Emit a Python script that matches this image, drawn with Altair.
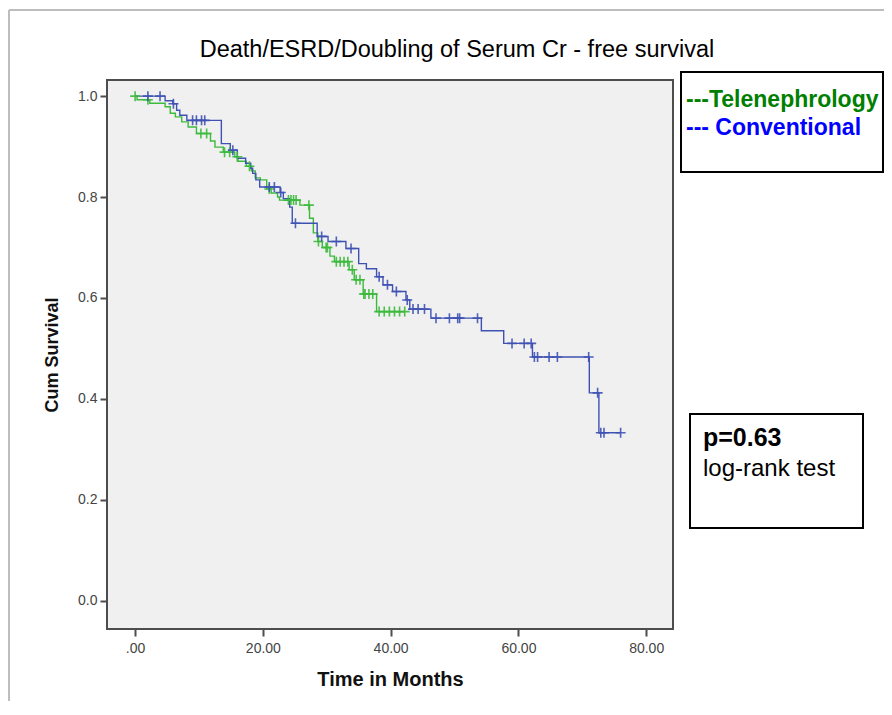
import altair as alt
import pandas as pd

# ---- Data ----
# Telenephrology (green): step times (months) and survival level after each step
tele_t = [0.0, 0.3, 2.3, 4.7, 5.5, 6.3, 7.3, 8.3, 9.6, 11.8, 12.5, 13.8, 15.6, 16.1,
          17.4, 18.2, 18.8, 19.6, 20.6, 21.3, 22.3, 22.6, 25.8, 27.3, 27.9, 28.6,
          29.3, 30.5, 31.2, 33.5, 34.3, 35.7, 37.8]
tele_s = [1.000, 0.993, 0.986, 0.979, 0.966, 0.959, 0.949, 0.939, 0.926, 0.911, 0.899,
          0.889, 0.880, 0.871, 0.861, 0.852, 0.838, 0.834, 0.816, 0.808, 0.800, 0.794,
          0.784, 0.758, 0.729, 0.712, 0.700, 0.683, 0.672, 0.656, 0.636, 0.608, 0.573]
tele_end = 42.2
tele_cens = [0.0, 2.0, 10.3, 11.2, 14.0, 14.8, 16.0, 17.9, 21.0, 24.0, 24.4, 24.8, 25.2,
             27.2, 28.7, 29.9, 30.1, 31.5, 32.1, 32.7, 33.3, 34.0, 34.6, 35.2, 35.8,
             36.0, 36.6, 37.2, 38.2, 39.0, 39.8, 40.6, 41.4, 42.2]

# Conventional (blue)
conv_t = [0.0, 4.7, 5.9, 6.5, 7.0, 8.1, 13.5, 14.9, 16.0, 17.3, 18.1, 18.4, 18.9, 19.5,
          22.7, 23.2, 24.2, 24.6, 28.5, 30.2, 33.0, 35.0, 36.2, 37.8, 38.8, 40.3, 42.4,
          43.0, 46.3, 54.2, 57.7, 62.2, 71.1, 72.6]
conv_s = [1.000, 0.991, 0.985, 0.972, 0.962, 0.952, 0.906, 0.893, 0.877, 0.867, 0.857,
          0.847, 0.834, 0.820, 0.809, 0.797, 0.780, 0.748, 0.722, 0.712, 0.698, 0.668,
          0.658, 0.642, 0.626, 0.613, 0.596, 0.578, 0.560, 0.535, 0.510, 0.483, 0.412, 0.333]
conv_end = 76.0
conv_cens = [2.0, 3.9, 6.0, 9.0, 9.6, 10.4, 10.9, 15.3, 21.0, 21.8, 22.8, 25.1, 29.2, 31.5,
             33.8, 38.2, 39.5, 40.9, 42.6, 43.5, 44.3, 45.3, 47.1, 49.2, 50.5, 50.8, 53.6,
             59.0, 60.9, 62.0, 62.5, 63.0, 64.8, 66.1, 71.0, 72.4, 72.9, 73.4, 76.0]

groups = ["Telenephrology", "Conventional"]
colors = ["#3cba3c", "#3f52b4"]

x_ticks = [0, 20, 40, 60, 80]
y_ticks = [0.0, 0.2, 0.4, 0.6, 0.8, 1.0]


def level_at(ts, ss, t):
    lv = ss[0]
    for ti, si in zip(ts, ss):
        if ti <= t:
            lv = si
    return lv


line_rows, cens_rows = [], []
for g, ts, ss, end, cens in [(groups[0], tele_t, tele_s, tele_end, tele_cens),
                             (groups[1], conv_t, conv_s, conv_end, conv_cens)]:
    for i, (t, s) in enumerate(zip(ts, ss)):
        line_rows.append({"group": g, "t": t, "s": s, "o": i})
    line_rows.append({"group": g, "t": end, "s": ss[-1], "o": len(ts)})
    for c in cens:
        cens_rows.append({"group": g, "t": c, "s": level_at(ts, ss, c)})

lines_df = pd.DataFrame(line_rows)
cens_df = pd.DataFrame(cens_rows)

xs = alt.Scale(domain=[-4.4, 84.2], nice=False, zero=False)
ys = alt.Scale(domain=[-0.056, 1.032], nice=False, zero=False)
cs = alt.Scale(domain=groups, range=colors)

x_enc = alt.X("t:Q", scale=xs, axis=alt.Axis(
    values=x_ticks, title="Time in Months",
    labelExpr="datum.value == 0 ? '.00' : format(datum.value, '.2f')"))
y_enc = alt.Y("s:Q", scale=ys, axis=alt.Axis(
    values=y_ticks, format=".1f", title="Cum Survival"))

lines = alt.Chart(lines_df).mark_line(interpolate="step-after", strokeWidth=1.4).encode(
    x=x_enc, y=y_enc,
    color=alt.Color("group:N", scale=cs, legend=None),
    order="o:Q", detail="group:N")

cens = alt.Chart(cens_df).mark_point(
    shape="M-1,0L1,0M0,-1L0,1", size=100, filled=False, strokeWidth=1.6, opacity=0.9
).encode(x="t:Q", y="s:Q", color=alt.Color("group:N", scale=cs, legend=None))

dummy = pd.DataFrame({"a": [0]})


def rule(x1, y1, x2, y2, color, w):
    return alt.Chart(dummy).mark_rule(color=color, strokeWidth=w).encode(
        x=alt.value(x1), x2=alt.value(x2), y=alt.value(y1), y2=alt.value(y2))


def box(x1, y1, x2, y2):
    return alt.Chart(dummy).mark_rect(fill="white", stroke="black", strokeWidth=2).encode(
        x=alt.value(x1), x2=alt.value(x2), y=alt.value(y1), y2=alt.value(y2))


def label(txt, x, y, size, color="black", weight="normal", align="left", font="Liberation Sans"):
    return alt.Chart(dummy).mark_text(
        text=txt, fontSize=size, color=color, fontWeight=weight, align=align,
        baseline="middle", font=font).encode(x=alt.value(x), y=alt.value(y))


outer_top = rule(-98, -70, 780, -70, "#bdbdbd", 2)
outer_left = rule(-98, -70, -98, 650, "#bdbdbd", 2)

title = label("Death/ESRD/Doubling of Serum Cr - free survival", 350, -30, 23.5,
              align="center")
legend_box = box(574, -8, 776, 92)
leg1 = label("---Telenephrology", 579, 20, 23, color="#008000", weight="bold")
leg2 = label("--- Conventional", 579, 48, 23, color="#0000ff", weight="bold")
p_box = box(583, 334, 756, 448)
p1 = label("p=0.63", 596, 358, 25, weight="bold")
p2 = label("log-rank test", 596, 389, 24)

chart = alt.layer(
    outer_top, outer_left, lines, cens, title, legend_box, leg1, leg2, p_box, p1, p2
).properties(
    width=566, height=549,
    autosize=alt.AutoSizeParams(type="none"),
    padding={"left": 99, "top": 72, "right": 211, "bottom": 72},
).configure_view(
    fill="#f0f0f0", stroke="#4d4d4d", strokeWidth=2
).configure_axis(
    grid=False, domain=False, tickSize=7, tickWidth=2, tickColor="#4d4d4d",
    labelFont="Liberation Sans", labelFontSize=14, labelColor="#444444",
    titleFont="Liberation Sans", titleFontWeight="bold", titleColor="#111111",
    labelPadding=3
).configure_axisX(
    titleFontSize=20, titlePadding=14, labelPadding=5
).configure_axisY(
    titleFontSize=18, titlePadding=16
)

chart.save("out.html", embed_options={"renderer": "svg", "actions": False})
